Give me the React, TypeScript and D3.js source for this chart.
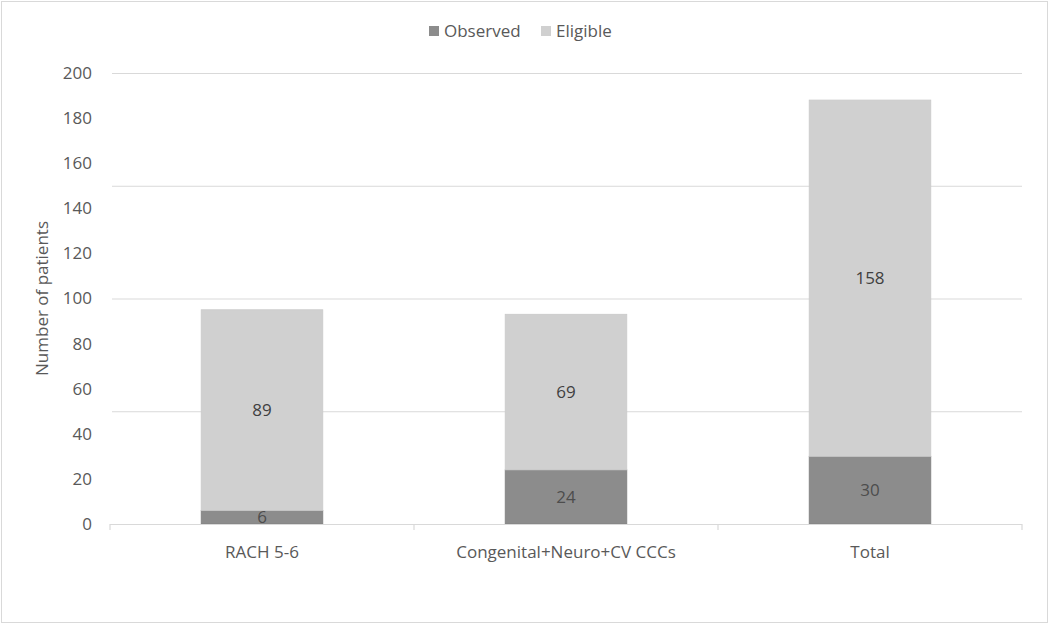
import { useEffect, useRef } from "react";
import * as d3 from "d3";

const categories = ["RACH 5-6", "Congenital+Neuro+CV CCCs", "Total"];
const observed = [6, 24, 30];
const eligible = [89, 69, 158];
const seriesNames = ["Observed", "Eligible"];
const seriesColors = ["#8c8c8c", "#d0d0d0"];
const yTicks = [0, 20, 40, 60, 80, 100, 120, 140, 160, 180, 200];
const gridValues = [0, 50, 100, 150, 200];

const WIDTH = 1050;
const HEIGHT = 625;
const FONT = "'Open Sans', 'Noto Sans', sans-serif";

export default function App() {
	const svgRef = useRef<SVGSVGElement>(null);

	useEffect(() => {
		document.body.style.margin = "0";
		if (!svgRef.current) return;

		const svg = d3.select(svgRef.current);
		svg.selectAll("*").remove();

		const margin = { top: 73, right: 28, bottom: 101, left: 110 };
		const innerWidth = WIDTH - margin.left - margin.right;
		const innerHeight = HEIGHT - margin.top - margin.bottom;

		// chart border
		svg.append("rect")
			.attr("x", 1.5)
			.attr("y", 1.5)
			.attr("width", WIDTH - 4)
			.attr("height", HEIGHT - 4)
			.attr("fill", "#fff")
			.attr("stroke", "#d9d9d9");

		const g = svg.append("g")
			.attr("transform", `translate(${margin.left},${margin.top})`);

		const x = d3.scaleBand()
			.domain(categories)
			.range([0, innerWidth])
			.padding(0);

		const y = d3.scaleLinear()
			.domain([0, 200])
			.range([innerHeight, 0]);

		// gridlines
		g.selectAll(".grid")
			.data(gridValues.filter(v => v > 0))
			.enter()
			.append("line")
			.attr("x1", 2)
			.attr("x2", innerWidth)
			.attr("y1", d => y(d) + 0.5)
			.attr("y2", d => y(d) + 0.5)
			.attr("stroke", "#d9d9d9")
			.attr("stroke-width", 1.2);

		// y tick labels
		g.selectAll(".ytick")
			.data(yTicks)
			.enter()
			.append("text")
			.attr("x", -18)
			.attr("y", d => y(d))
			.attr("dy", "0.35em")
			.attr("text-anchor", "end")
			.style("font-family", FONT)
			.style("font-size", "17px")
			.style("fill", "#595959")
			.text(d => d);

		// y title
		g.append("text")
			.attr("transform", `translate(${42 - margin.left},${innerHeight / 2}) rotate(-90)`)
			.attr("text-anchor", "middle")
			.attr("dy", "0.35em")
			.style("font-family", FONT)
			.style("font-size", "17px")
			.style("fill", "#595959")
			.text("Number of patients");

		const stackData = categories.map((c, i) => ({ cat: c, Observed: observed[i], Eligible: eligible[i] }));
		const stack = d3.stack<any>().keys(seriesNames)(stackData);

		const barWidth = x.bandwidth() * 0.4;

		stack.forEach((layer, si) => {
			const lg = g.append("g");
			lg.selectAll("rect")
				.data(layer)
				.enter()
				.append("rect")
				.attr("x", d => (x(d.data.cat) || 0) + (x.bandwidth() - barWidth) / 2)
				.attr("y", d => y(d[1]))
				.attr("width", barWidth)
				.attr("height", d => y(d[0]) - y(d[1]))
				.attr("fill", seriesColors[si])
				.attr("stroke", si === 0 ? "#7f7f7f" : "#cacaca")
				.attr("stroke-width", 0.8);

			lg.selectAll("text")
				.data(layer)
				.enter()
				.append("text")
				.attr("x", d => (x(d.data.cat) || 0) + x.bandwidth() / 2)
				.attr("y", d => (y(d[0]) + y(d[1])) / 2)
				.attr("dy", "0.35em")
				.attr("text-anchor", "middle")
				.style("font-family", FONT)
				.style("font-size", "17px")
				.style("fill", si === 0 ? "#4d4d4d" : "#404040")
				.text(d => d[1] - d[0]);
		});

		// x axis baseline and ticks
		g.append("line")
			.attr("x1", 0)
			.attr("x2", innerWidth)
			.attr("y1", innerHeight + 0.5)
			.attr("y2", innerHeight + 0.5)
			.attr("stroke", "#d9d9d9")
			.attr("stroke-width", 1.2);

		const boundaries = categories.map(c => x(c) || 0).concat([innerWidth]);
		g.selectAll(".xtick")
			.data(boundaries)
			.enter()
			.append("line")
			.attr("x1", d => d)
			.attr("x2", d => d)
			.attr("y1", innerHeight)
			.attr("y2", innerHeight + 6)
			.attr("stroke", "#d9d9d9")
			.attr("stroke-width", 1.2);

		g.selectAll(".xlabel")
			.data(categories)
			.enter()
			.append("text")
			.attr("x", d => (x(d) || 0) + x.bandwidth() / 2)
			.attr("y", innerHeight + 28)
			.attr("dy", "0.35em")
			.attr("text-anchor", "middle")
			.style("font-family", FONT)
			.style("font-size", "17px")
			.style("fill", "#595959")
			.text(d => d);

		// legend
		const legend = svg.append("g");
		const legendItems = [
			{ name: seriesNames[0], color: seriesColors[0], x: 429 },
			{ name: seriesNames[1], color: seriesColors[1], x: 541 },
		];
		legendItems.forEach(item => {
			legend.append("rect")
				.attr("x", item.x)
				.attr("y", 26)
				.attr("width", 10)
				.attr("height", 10)
				.attr("fill", item.color);
			legend.append("text")
				.attr("x", item.x + 15)
				.attr("y", 31)
				.attr("dy", "0.35em")
				.style("font-family", FONT)
				.style("font-size", "17px")
				.style("fill", "#595959")
				.text(item.name);
		});
	}, []);

	return <svg ref={svgRef} width={WIDTH} height={HEIGHT} style={{ display: "block" }} />;
}
